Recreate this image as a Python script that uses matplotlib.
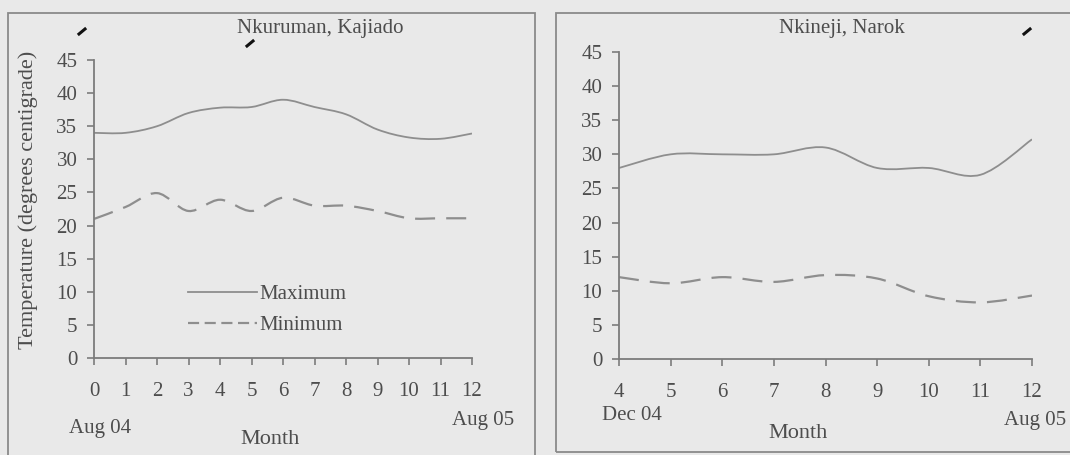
import matplotlib
matplotlib.use("Agg")
import numpy as np
import matplotlib.pyplot as plt
from matplotlib.path import Path
from matplotlib.patches import PathPatch, Rectangle
from matplotlib.lines import Line2D

# data (monthly means, degrees C)
kaj_months = [0, 1, 2, 3, 4, 5, 6, 7, 8, 9, 10, 11, 12]
kaj_max = [34.0, 34.0, 35.0, 37.0, 37.8, 37.9, 39.0, 37.9, 36.8, 34.5, 33.3, 33.1, 33.9]
kaj_min = [21.0, 22.8, 24.9, 22.2, 23.9, 22.2, 24.2, 23.0, 23.0, 22.2, 21.1, 21.1, 21.1]

nar_months = [4, 5, 6, 7, 8, 9, 10, 11, 12]
nar_max = [28.0, 30.0, 30.0, 30.0, 31.0, 28.0, 28.0, 27.0, 32.2]
nar_min = [12.0, 11.1, 12.0, 11.3, 12.3, 11.8, 9.2, 8.3, 9.3]

yticks = [0, 5, 10, 15, 20, 25, 30, 35, 40, 45]

W, H = 1070, 455
bg = "#e9e9e9"
ink = "#4d4d4d"
line_col = "#8e8e8e"
axis_col = "#7c7c7c"

plt.rcParams['font.family'] = ['Liberation Serif', 'DejaVu Serif']
plt.rcParams['text.color'] = ink


def smooth_path(x, y):
    '''cubic bezier path through the points (Excel style smoothed line)'''
    p = np.column_stack([x, y]).astype(float)
    verts = [p[0]]
    codes = [Path.MOVETO]
    n = len(p)
    for i in range(n - 1):
        p0 = p[max(i - 1, 0)]
        p1 = p[i]
        p2 = p[i + 1]
        p3 = p[min(i + 2, n - 1)]
        verts += [p1 + (p2 - p0) / 6.0, p2 - (p3 - p1) / 6.0, p2]
        codes += [Path.CURVE4] * 3
    return Path(verts, codes)


def fx(px):
    return px / W


def fy(py):
    return 1 - py / H


def make_axes(fig, x0, x1, y0, y45, xlim, xticks):
    ax = fig.add_axes([fx(x0), fy(y0), fx(x1) - fx(x0), fy(y45) - fy(y0)])
    ax.set_facecolor("none")
    ax.set_xlim(*xlim)
    ax.set_ylim(0, 45)
    ax.set_xticks(xticks)
    ax.set_yticks(yticks)
    for s in ["top", "right"]:
        ax.spines[s].set_visible(False)
    for s in ["left", "bottom"]:
        ax.spines[s].set_color(axis_col)
        ax.spines[s].set_linewidth(1.3)
    ax.tick_params(axis="both", colors=axis_col, labelcolor=ink, labelsize=15,
                   length=5, width=1.2, direction="out")
    ax.tick_params(axis="x", pad=12)
    ax.tick_params(axis="y", pad=7)
    return ax


def draw_series(ax, x, ymax, ymin):
    ax.add_patch(PathPatch(smooth_path(x, ymax), fill=False, edgecolor=line_col,
                           lw=1.3, capstyle="butt"))
    ax.add_patch(PathPatch(smooth_path(x, ymin), fill=False, edgecolor=line_col,
                           lw=1.6, linestyle=(0, (9, 5)), capstyle="butt"))


fig = plt.figure(figsize=(W / 100, H / 100), dpi=100, facecolor=bg)

# panel frames
fig.add_artist(Rectangle((fx(8), fy(470)), fx(535) - fx(8), fy(13) - fy(470),
                         transform=fig.transFigure, fill=False, edgecolor="#8a8a8a", lw=1.3))
fig.add_artist(Rectangle((fx(556), fy(452)), fx(1090) - fx(556), fy(13) - fy(452),
                         transform=fig.transFigure, fill=False, edgecolor="#8a8a8a", lw=1.3))

# pen marks on the scanned page
for (a, b) in [((79, 34), (85, 29)), ((247, 46), (253, 41)), ((1024, 34), (1030, 29))]:
    fig.add_artist(Line2D([fx(a[0]), fx(b[0])], [fy(a[1]), fy(b[1])],
                          transform=fig.transFigure, color="#111111", lw=2.2))

# left panel: Nkuruman, Kajiado
ax1 = make_axes(fig, 94, 472, 358, 60, (0, 12), kaj_months)
draw_series(ax1, kaj_months, kaj_max, kaj_min)
handles = [Line2D([], [], color=line_col, lw=1.3),
           Line2D([], [], color=line_col, lw=1.6, linestyle=(0, (5, 2.5)))]
ax1.legend(handles, ["Maximum", "Minimum"], loc="upper left",
           bbox_to_anchor=(0.2, 0.31), frameon=False, fontsize=15,
           handlelength=3.3, handletextpad=0.1, labelspacing=0.55, labelcolor=ink)
fig.text(fx(320), fy(28), "Nkuruman, Kajiado", ha="center", va="center", fontsize=15)
fig.text(fx(28), fy(200), "Temperature (degrees centigrade)", ha="center", va="center",
         rotation=90, fontsize=16)
fig.text(fx(100), fy(428), "Aug 04", ha="center", va="center", fontsize=15)
fig.text(fx(483), fy(421), "Aug 05", ha="center", va="center", fontsize=15)
fig.text(fx(270), fy(440), "Month", ha="center", va="center", fontsize=16)

# right panel: Nkineji, Narok
ax2 = make_axes(fig, 619, 1032, 359, 52, (4, 12), nar_months)
draw_series(ax2, nar_months, nar_max, nar_min)
fig.text(fx(842), fy(28), "Nkineji, Narok", ha="center", va="center", fontsize=15)
fig.text(fx(632), fy(415), "Dec 04", ha="center", va="center", fontsize=15)
fig.text(fx(1035), fy(420), "Aug 05", ha="center", va="center", fontsize=15)
fig.text(fx(798), fy(433), "Month", ha="center", va="center", fontsize=16)

fig.savefig("out.png", dpi=100, facecolor=bg)
